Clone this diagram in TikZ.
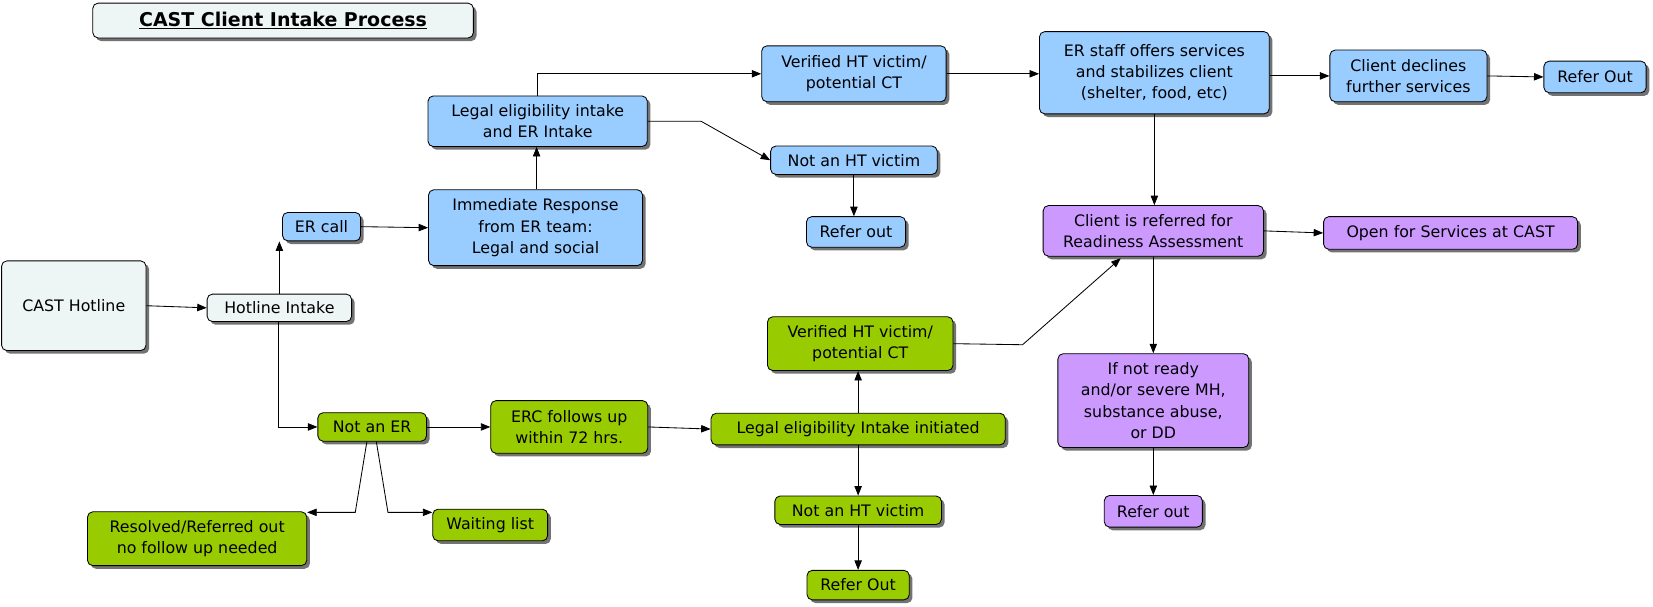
\documentclass[tikz,border=0pt]{standalone}
\usepackage{fontspec}
\setmainfont{DejaVu Sans}
\usetikzlibrary{shadows,arrows.meta}
\definecolor{cb}{HTML}{99CCFF}
\definecolor{cp}{HTML}{CC99FF}
\definecolor{cg}{HTML}{99CC00}
\definecolor{cl}{HTML}{EEF5F5}
\begin{document}
\begin{tikzpicture}[x=1pt,y=-1pt,
 box/.style={draw=black,line width=0.8pt,rounded corners=5pt,align=center,inner sep=2pt,
   font=\fontsize{15}{20}\selectfont,
   drop shadow={shadow xshift=3pt,shadow yshift=-3pt,fill=black!55,opacity=1}},
 B/.style={box,fill=cb}, P/.style={box,fill=cp}, G/.style={box,fill=cg}, L/.style={box,fill=cl},
 ar/.style={-{Triangle[length=9pt,width=7pt]},line width=0.8pt},
 ln/.style={line width=0.8pt}]
\useasboundingbox (0,0) rectangle (1568,575);
\node[L,minimum width=361,minimum height=33,font=\fontsize{18}{22}\selectfont\bfseries] (title) at (268.5,19.5) {\underline{CAST Client Intake Process}};
\node[L,minimum width=137,minimum height=85] (hot) at (70,290) {CAST Hotline};
\node[L,minimum width=137,minimum height=26] (hi) at (265,292) {Hotline Intake};
\node[B,minimum width=74,minimum height=27] (er) at (305,215) {ER call};
\node[B,minimum width=203,minimum height=72] (imm) at (508,216) {Immediate Response\\from ER team:\\Legal and social};
\node[B,minimum width=208,minimum height=48] (leg) at (510,115) {Legal eligibility intake\\and ER Intake};
\node[B,minimum width=175,minimum height=53] (ver) at (810,70) {Verified HT victim/\\potential CT};
\node[B,minimum width=158,minimum height=27] (nht) at (810,152) {Not an HT victim};
\node[B,minimum width=94,minimum height=29] (ro1) at (812,220) {Refer out};
\node[B,minimum width=218,minimum height=78] (ers) at (1095,69) {ER staff offers services\\and stabilizes client\\(shelter, food, etc)};
\node[B,minimum width=149,minimum height=49] (dec) at (1336,72) {Client declines\\further services};
\node[B,minimum width=97,minimum height=30] (ro2) at (1513,73) {Refer Out};
\node[P,minimum width=209,minimum height=48] (cr) at (1094,219) {Client is referred for\\Readiness Assessment};
\node[P,minimum width=241,minimum height=31] (open) at (1376,221) {Open for Services at CAST};
\node[P,minimum width=181,minimum height=89] (inr) at (1094,380) {If not ready\\and/or severe MH,\\substance abuse,\\or DD};
\node[P,minimum width=93,minimum height=30] (ro3) at (1094,485) {Refer out};
\node[G,minimum width=176,minimum height=51] (gver) at (816,326) {Verified HT victim/\\potential CT};
\node[G,minimum width=279,minimum height=30] (gli) at (814,407) {Legal eligibility Intake initiated};
\node[G,minimum width=158,minimum height=27] (gnht) at (814,484) {Not an HT victim};
\node[G,minimum width=97,minimum height=28] (gro) at (814,555) {Refer Out};
\node[G,minimum width=149,minimum height=50] (erc) at (540,405) {ERC follows up\\within 72 hrs.};
\node[G,minimum width=103,minimum height=27] (ner) at (353,405) {Not an ER};
\node[G,minimum width=208,minimum height=51] (res) at (187,511) {Resolved/Referred out\\no follow up needed};
\node[G,minimum width=109,minimum height=30] (wl) at (465,498) {Waiting list};

\draw[ar] (hot.east) -- (hi.west);
\draw[ar] (hi.north -| 265,0) -- (265,229);
\draw[ar] (264,305) -- (264,405) -- (ner.west);
\draw[ar] (er.east) -- (imm.west);
\draw[ar] (imm.north -| 509,0) -- (leg.south -| 509,0);
\draw[ar] (leg.north) |- (ver.west);
\draw[ar] (leg.east) -- (665,115) -- (nht.west);
\draw[ar] (nht.south) -- (nht.south |- ro1.north);
\draw[ar] (ver.east) -- (ers.west |- ver.east);
\draw[ar] (ers.east |- dec.west) -- (dec.west);
\draw[ar] (dec.east) -- (ro2.west);
\draw[ar] (ers.south) -- (cr.north -| ers.south);
\draw[ar] (cr.east) -- (open.west);
\draw[ar] (cr.south) -- (inr.north);
\draw[ar] (inr.south) -- (ro3.north);
\draw[ar] (gver.east) -- (970,327) -- (1063,245);
\draw[ar] (gli.north) -- (gli.north |- gver.south);
\draw[ar] (gli.south) -- (gnht.north);
\draw[ar] (gnht.south) -- (gro.north);
\draw[ar] (ner.east) -- (erc.west);
\draw[ar] (erc.east) -- (gli.west);
\draw[ar] (348,419) -- (337,486) -- (res.east |- 0,486);
\draw[ar] (357,419) -- (368,486) -- (wl.west |- 0,486);
\end{tikzpicture}
\end{document}
